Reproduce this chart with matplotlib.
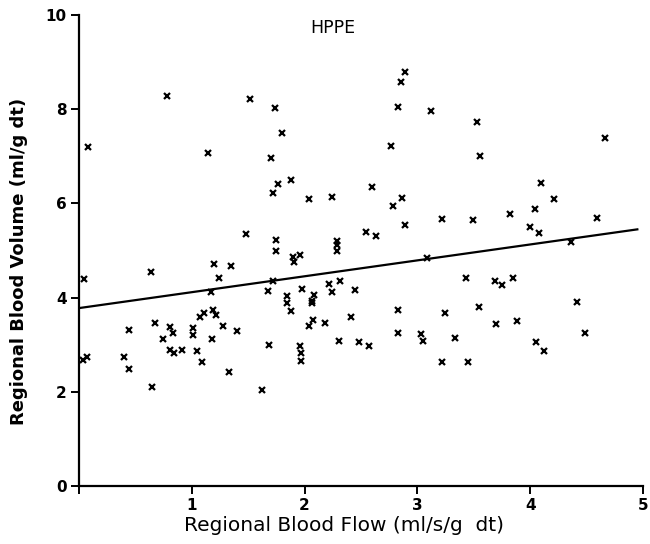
import matplotlib
matplotlib.use("Agg")
import matplotlib.pyplot as plt
import numpy as np

flow = [0.082, 0.777, 1.144, 1.520, 1.483, 2.893, 2.852, 1.737, 2.832, 3.123,
        1.803, 2.768, 1.699, 1.768, 1.878, 1.719, 2.038, 2.242, 2.594, 2.864,
        2.784, 2.886, 3.222, 2.546, 2.629, 1.743, 1.749, 1.897, 1.956, 1.910,
        2.289, 2.289, 2.289, 3.081, 3.527, 4.665, 3.552, 4.092, 4.210, 4.047,
        3.819, 3.493, 4.593, 3.998, 4.074, 4.359, 0.048, 0.640, 1.195, 1.344,
        1.244, 1.173, 1.675, 1.186, 1.105, 1.070, 1.213, 0.676, 0.445, 0.808,
        0.836, 1.014, 1.014, 0.746, 1.175, 1.274, 1.402, 0.037, 0.070, 0.403,
        0.440, 0.808, 0.843, 0.911, 1.045, 1.092, 1.327, 0.651, 1.626, 1.721,
        1.842, 1.844, 1.981, 2.084, 2.064, 2.067, 1.882, 2.220, 2.313, 2.242,
        2.445, 2.073, 2.035, 2.180, 2.412, 2.826, 3.244, 1.681, 1.959, 1.969,
        1.969, 2.306, 2.480, 2.573, 2.832, 3.034, 3.052, 3.332, 3.215, 3.430,
        3.690, 3.746, 3.844, 3.545, 4.417, 3.697, 3.879, 4.487, 4.055, 4.122,
        3.445]
volume = [7.20, 8.28, 7.07, 8.20, 5.36, 8.79, 8.57, 8.03, 8.05, 7.95,
          7.48, 7.22, 6.97, 6.41, 6.49, 6.21, 6.10, 6.14, 6.35, 6.11,
          5.95, 5.54, 5.67, 5.39, 5.31, 5.22, 4.99, 4.87, 4.90, 4.75,
          5.21, 5.11, 5.00, 4.84, 7.72, 7.38, 7.01, 6.42, 6.10, 5.89,
          5.78, 5.65, 5.68, 5.50, 5.37, 5.19, 4.40, 4.54, 4.71, 4.67,
          4.42, 4.12, 4.15, 3.74, 3.67, 3.60, 3.64, 3.47, 3.32, 3.37,
          3.25, 3.35, 3.22, 3.13, 3.13, 3.39, 3.29, 2.69, 2.75, 2.74,
          2.49, 2.89, 2.82, 2.89, 2.87, 2.64, 2.42, 2.10, 2.04, 4.36,
          4.04, 3.89, 4.18, 4.06, 3.93, 3.89, 3.72, 4.28, 4.36, 4.12,
          4.17, 3.52, 3.40, 3.47, 3.60, 3.75, 3.68, 3.00, 2.97, 2.83,
          2.66, 3.09, 3.06, 2.98, 3.26, 3.24, 3.09, 3.14, 2.64, 4.42,
          4.35, 4.26, 4.42, 3.81, 3.91, 3.45, 3.51, 3.26, 3.06, 2.88,
          2.63]

fit_intercept = 3.78
fit_slope = 0.337
fit_x = [0.0, 4.95]

xticks = [0, 1, 2, 3, 4, 5]
xticklabels = ["", "1", "2", "3", "4", "5"]
yticks = [0, 2, 4, 6, 8, 10]
yticklabels = ["0", "2", "4", "6", "8", "10"]

fig = plt.figure(figsize=(6.5, 5.44), dpi=100)
ax = fig.add_axes([0.1215, 0.1057, 0.8677, 0.8676])

ax.plot(flow, volume, linestyle="none", marker="x", markersize=4.5,
        markeredgewidth=1.6, color="black")
fx = np.array(fit_x)
ax.plot(fx, fit_intercept + fit_slope * fx, color="black", linewidth=1.6)

ax.set_xlim(0, 5)
ax.set_ylim(0, 10)
ax.spines["top"].set_visible(False)
ax.spines["right"].set_visible(False)
ax.spines["left"].set_linewidth(1.6)
ax.spines["bottom"].set_linewidth(1.6)
ax.set_xticks(xticks)
ax.set_xticklabels(xticklabels)
ax.set_yticks(yticks)
ax.set_yticklabels(yticklabels)
ax.tick_params(direction="out", length=6, width=1.4, labelsize=11, pad=3)
ax.tick_params(axis="x", pad=2)
for lab in ax.get_xticklabels() + ax.get_yticklabels():
    lab.set_fontweight("bold")

ax.set_xlabel("Regional Blood Flow (ml/s/g  dt)", fontsize=14.5)
ax.xaxis.set_label_coords(0.47, -0.062)
ax.set_ylabel("Regional Blood Volume (ml/g dt)", fontsize=13, fontweight="bold")
ax.yaxis.set_label_coords(-0.09, 0.476)
ax.text(2.25, 9.71, "HPPE", fontsize=12.5, ha="center", va="center")

fig.savefig("out.png", dpi=100)
